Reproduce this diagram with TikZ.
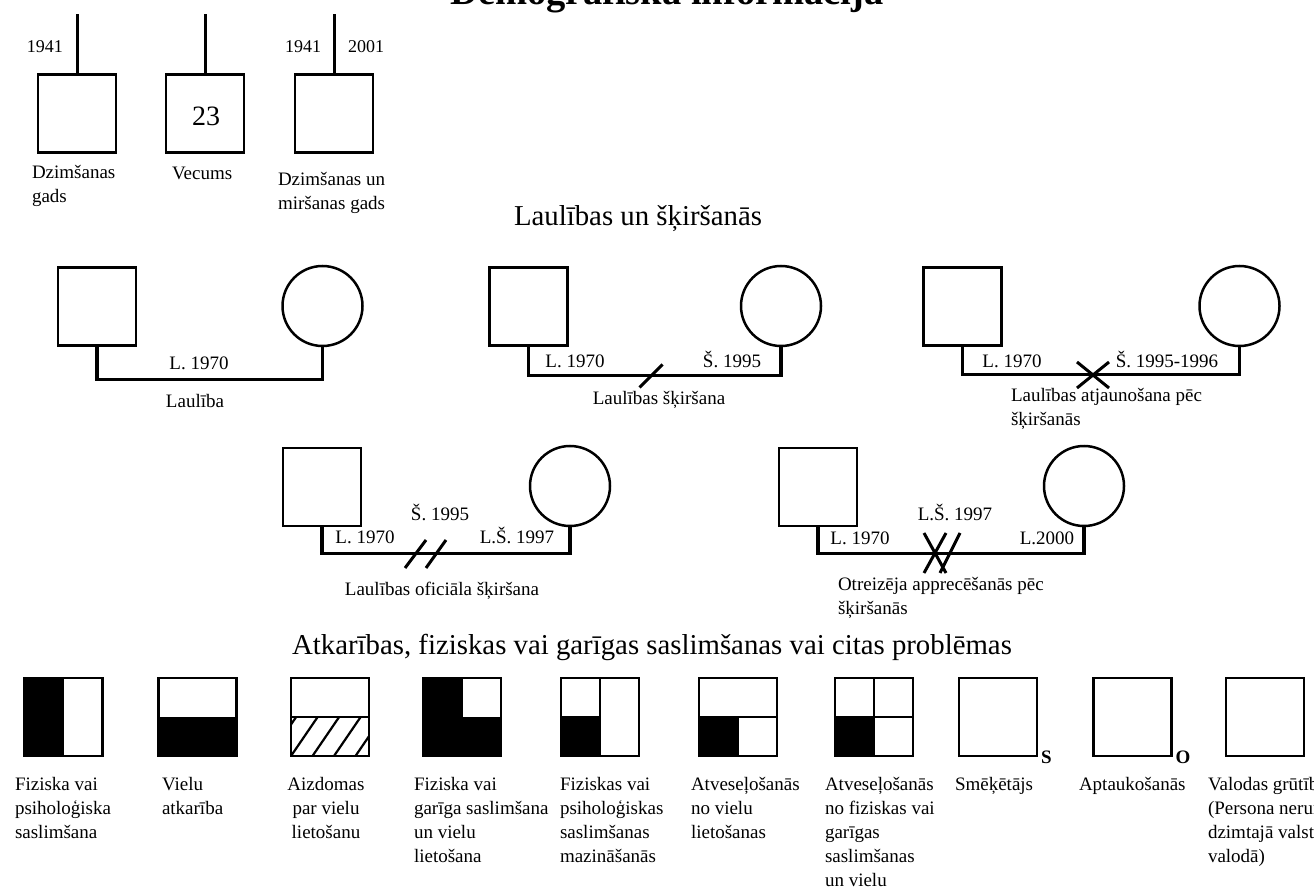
\documentclass[tikz,border=0pt]{standalone}
\usepackage{fontspec}
\setmainfont{Liberation Serif}
\begin{document}
\begin{tikzpicture}[x=1pt,y=-1pt,
  every node/.style={inner sep=0pt, outer sep=0pt},
  pbox/.style={draw, line width=2.5pt, minimum size=78pt, rectangle},
  pcirc/.style={draw, line width=2.5pt, minimum size=80pt, circle},
  relline/.style={line width=3.5pt},
  stemline/.style={line width=3pt},
  divmark/.style={line width=3pt},
  captext/.style={font=\fontsize{19}{24}\selectfont, align=left, anchor=north west},
  lbltext/.style={font=\fontsize{19}{22}\selectfont, anchor=base},
  yrtext/.style={font=\fontsize{18}{20}\selectfont, anchor=base},
  hdgtext/.style={font=\fontsize{28.8}{32}\selectfont, anchor=base},
  trtext/.style={font=\bfseries\fontsize{19}{22}\selectfont, anchor=west},
]
\useasboundingbox (0,0) rectangle (1314,890);
\clip (0,0) rectangle (1314,890);

% title (cut at top)
\node[font=\bfseries\fontsize{38.5}{42}\selectfont, anchor=base] (title) at (667,5) {Demogrāfiskā informācija};

% ---- top row
\node[pbox] (t1) at (77,113.5) {};
\node[pbox] (t2) at (205,113.5) {};
\node[pbox] (t3) at (334,113.5) {};
\draw[stemline] (t1.north) -- ++(0,-60);
\draw[stemline] (t2.north) -- ++(0,-60);
\draw[stemline] (t3.north) -- ++(0,-60);
\node[yrtext] (y1) at (45,53) {1941};
\node[yrtext] (y2) at (303,53) {1941};
\node[yrtext] (y3) at (366,53) {2001};
\node[font=\fontsize{28}{30}\selectfont, anchor=base] (age) at (206,126) {23};
\node[captext] (c1) at (32,165) {Dzimšanas\\gads};
\node[captext] (c2) at (172,167) {Vecums};
\node[captext] (c3) at (278,172) {Dzimšanas un\\miršanas gads};

% ---- marriages heading
\node[hdgtext] (h2) at (638,226) {Laulības un šķiršanās};

% marriage 1
\node[pbox] (m1) at (97,306.5) {};
\node[pcirc] (f1) at (322.5,306) {};
\draw[relline] (m1.south) -- ++(0,34) -| (f1.south);
\node[lbltext] (l1a) at (199,370) {L. 1970};
\node[lbltext] (l1b) at (195,407) {Laulība};

% marriage 2
\node[pbox] (m2) at (528.5,306.5) {};
\node[pcirc] (f2) at (781,306) {};
\draw[relline] (m2.south) -- ++(0,30) -| (f2.south);
\coordinate (d2) at (651,376);
\draw[divmark, shift={(d2)}] (-11.5,11.5) -- (11.5,-11.5);
\node[lbltext] (l2a) at (575,367) {L. 1970};
\node[lbltext] (l2b) at (732,367) {Š. 1995};
\node[lbltext] (l2c) at (659,404) {Laulības šķiršana};

% marriage 3
\node[pbox] (m3) at (962.5,306.5) {};
\node[pcirc] (f3) at (1239.5,306) {};
\draw[relline] (m3.south) -- ++(0,29) -| (f3.south);
\coordinate (d3) at (1093,375);
\draw[divmark, shift={(d3)}] (-16,-13) -- (16,13) (-16,13) -- (16,-13);
\node[lbltext] (l3a) at (1012,367) {L. 1970};
\node[lbltext] (l3b) at (1167,367) {Š. 1995-1996};
\node[captext] (l3c) at (1011,388) {Laulības atjaunošana pēc\\šķiršanās};

% marriage 4
\node[pbox] (m4) at (322,487) {};
\node[pcirc] (f4) at (570,486) {};
\draw[relline] (m4.south) -- ++(0,27.5) -| (f4.south);
\coordinate (d4) at (425.5,554);
\draw[divmark, shift={(d4)}] (-20.5,14) -- (0.5,-14) (0.5,14) -- (20.5,-14);
\node[lbltext] (l4a) at (440,520) {Š. 1995};
\node[lbltext] (l4b) at (365,543) {L. 1970};
\node[lbltext] (l4c) at (517,543) {L.Š. 1997};
\node[lbltext] (l4d) at (442,595) {Laulības oficiāla šķiršana};

% marriage 5
\node[pbox] (m5) at (818,487) {};
\node[pcirc] (f5) at (1084,486) {};
\draw[relline] (m5.south) -- ++(0,27.5) -| (f5.south);
\coordinate (d5) at (940,553);
\draw[divmark, shift={(d5)}] (-16,-20) -- (6,20) (-16,20) -- (6,-20) (0,20) -- (20,-20);
\node[lbltext] (l5a) at (955,520) {L.Š. 1997};
\node[lbltext] (l5b) at (860,544) {L. 1970};
\node[lbltext] (l5c) at (1047,544) {L.2000};
\node[captext] (l5d) at (838,577) {Otreizēja apprecēšanās pēc\\šķiršanās};

% ---- problems heading
\node[hdgtext] (h3) at (652,654) {Atkarības, fiziskas vai garīgas saslimšanas vai citas problēmas};

% bottom boxes
\node[pbox, path picture={\fill (path picture bounding box.north west) rectangle (path picture bounding box.south);}] (b1) at (63.5,717) {};
\node[pbox, path picture={\fill (path picture bounding box.west) rectangle (path picture bounding box.south east);}] (b2) at (197.5,717) {};
\node[pbox, path picture={
  \draw[line width=2.5pt] (path picture bounding box.west) -- (path picture bounding box.east);
  \clip (path picture bounding box.west) rectangle (path picture bounding box.south east);
  \foreach \i in {-2,...,4} \draw[line width=2.2pt] ([xshift=\i*21.5pt]path picture bounding box.south west) -- ++(28,-41);
}] (b3) at (330,717) {};
\node[pbox, path picture={
  \fill (path picture bounding box.north west) rectangle (path picture bounding box.center);
  \fill (path picture bounding box.west) rectangle (path picture bounding box.south east);
  \draw[line width=2.5pt] (path picture bounding box.north) -- (path picture bounding box.center);}] (b4) at (462,717) {};
\node[pbox, path picture={
  \fill (path picture bounding box.west) rectangle (path picture bounding box.south);
  \draw[line width=2.5pt] (path picture bounding box.north) -- (path picture bounding box.south)
        (path picture bounding box.west) -- (path picture bounding box.center);}] (b5) at (600,717) {};
\node[pbox, path picture={
  \fill (path picture bounding box.west) rectangle (path picture bounding box.south);
  \draw[line width=2.5pt] (path picture bounding box.west) -- (path picture bounding box.east)
        (path picture bounding box.center) -- (path picture bounding box.south);}] (b6) at (738,717) {};
\node[pbox, path picture={
  \fill (path picture bounding box.west) rectangle (path picture bounding box.south);
  \draw[line width=2.5pt] (path picture bounding box.west) -- (path picture bounding box.east)
        (path picture bounding box.north) -- (path picture bounding box.south);}] (b7) at (874,717) {};
\node[pbox] (b8) at (998,717) {};
\node[pbox] (b9) at (1132.5,717) {};
\node[pbox] (b10) at (1265,717) {};
\node[trtext] (s8) at ([xshift=4pt,yshift=-1pt]b8.south east) {S};
\node[trtext] (s9) at ([xshift=4pt,yshift=-1pt]b9.south east) {O};

% captions
\node[captext] (k1) at (15,777) {Fiziska vai\\psiholoģiska\\saslimšana};
\node[captext] (k2) at (162,777) {Vielu\\atkarība};
\node[captext, align=center, anchor=north] (k3) at (326,777) {Aizdomas\\par vielu\\lietošanu};
\node[captext] (k4) at (414,777) {Fiziska vai\\garīga saslimšana\\un vielu\\lietošana};
\node[captext] (k5) at (560,777) {Fiziskas vai\\psiholoģiskas\\saslimšanas\\mazināšanās};
\node[captext] (k6) at (691,777) {Atveseļošanās\\no vielu\\lietošanas};
\node[captext] (k7) at (825,777) {Atveseļošanās\\no fiziskas vai\\garīgas\\saslimšanas\\un vielu\\lietošanas};
\node[captext] (k8) at (955,777) {Smēķētājs};
\node[captext] (k9) at (1079,777) {Aptaukošanās};
\node[captext] (k10) at (1208,777) {Valodas grūtības\\(Persona nerunā\\dzimtajā valsts\\valodā)};
\end{tikzpicture}
\end{document}
